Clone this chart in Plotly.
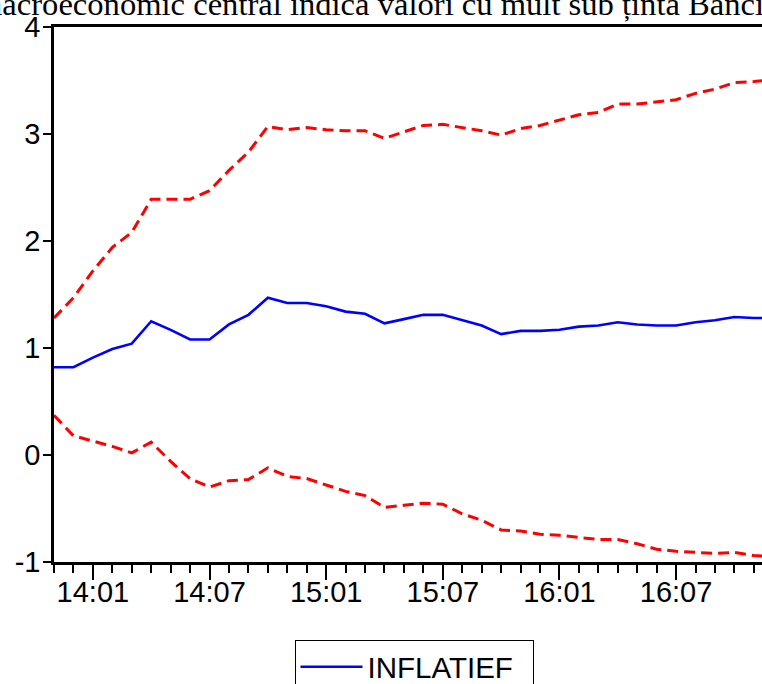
import plotly.graph_objects as go

periods = ["2013:11", "2013:12",
           "2014:01", "2014:02", "2014:03", "2014:04", "2014:05", "2014:06",
           "2014:07", "2014:08", "2014:09", "2014:10", "2014:11", "2014:12",
           "2015:01", "2015:02", "2015:03", "2015:04", "2015:05", "2015:06",
           "2015:07", "2015:08", "2015:09", "2015:10", "2015:11", "2015:12",
           "2016:01", "2016:02", "2016:03", "2016:04", "2016:05", "2016:06",
           "2016:07", "2016:08", "2016:09", "2016:10", "2016:11", "2016:12"]

inflatief = [0.82, 0.82, 0.91, 0.99, 1.04, 1.25, 1.17, 1.08, 1.08, 1.22, 1.31, 1.47,
             1.42, 1.42, 1.39, 1.34, 1.32, 1.23, 1.27, 1.31, 1.31, 1.26, 1.21, 1.13,
             1.16, 1.16, 1.17, 1.20, 1.21, 1.24, 1.22, 1.21, 1.21, 1.24, 1.26, 1.29,
             1.28, 1.28]

upper_band = [1.28, 1.47, 1.72, 1.94, 2.08, 2.39, 2.39, 2.39, 2.47, 2.66, 2.83, 3.07,
              3.04, 3.06, 3.04, 3.03, 3.03, 2.96, 3.02, 3.08, 3.09, 3.06, 3.03, 2.99,
              3.05, 3.08, 3.13, 3.18, 3.20, 3.28, 3.28, 3.30, 3.32, 3.38, 3.42, 3.48,
              3.49, 3.51]

lower_band = [0.37, 0.18, 0.13, 0.08, 0.02, 0.12, -0.06, -0.22, -0.30, -0.24, -0.23, -0.12,
              -0.20, -0.22, -0.28, -0.34, -0.38, -0.49, -0.47, -0.45, -0.46, -0.55, -0.61, -0.70,
              -0.71, -0.74, -0.75, -0.77, -0.79, -0.79, -0.83, -0.88, -0.90, -0.91, -0.92, -0.91,
              -0.94, -0.95]

tick_periods = ["2014:01", "2014:07", "2015:01", "2015:07", "2016:01", "2016:07"]
tick_labels = ["14:01", "14:07", "15:01", "15:07", "16:01", "16:07"]
y_ticks = [-1, 0, 1, 2, 3, 4]

title_text = "macroeconomic central indică valori cu mult sub ținta Băncii"

x = list(range(len(periods)))
tick_pos = [periods.index(p) for p in tick_periods]

FONT = "Liberation Sans, Arial, sans-serif"

fig = go.Figure()
fig.add_trace(go.Scatter(x=x, y=upper_band, mode="lines", showlegend=False,
                         line=dict(color="#ff0000", width=3, dash="11px,6px"),
                         hoverinfo="skip"))
fig.add_trace(go.Scatter(x=x, y=lower_band, mode="lines", showlegend=False,
                         line=dict(color="#ff0000", width=3, dash="11px,6px"),
                         hoverinfo="skip"))
fig.add_trace(go.Scatter(x=x, y=inflatief, mode="lines", name="INFLATIEF",
                         line=dict(color="#0000ff", width=2.6)))

fig.update_layout(
    width=762, height=684,
    margin=dict(l=54.4, r=0, t=26.6, b=122.3, autoexpand=False),
    paper_bgcolor="white", plot_bgcolor="white",
    font=dict(family=FONT, size=29, color="black"),
    showlegend=True,
    legend=dict(
        xref="container", yref="container",
        x=414 / 762, xanchor="center", y=1 - 640 / 684, yanchor="top",
        orientation="h", itemwidth=62, entrywidth=160, entrywidthmode="pixels",
        bordercolor="black", borderwidth=1, bgcolor="white",
        font=dict(family=FONT, size=29.5, color="black"),
    ),
    xaxis=dict(
        range=[0, 36.42],
        tickmode="array", tickvals=tick_pos, ticktext=tick_labels,
        ticks="outside", ticklen=15, tickwidth=2, tickcolor="black",
        ticklabelstandoff=-13,
        minor=dict(tickmode="linear", tick0=0, dtick=1, ticks="outside",
                   ticklen=8, tickwidth=2, tickcolor="black"),
        showline=True, linecolor="black", linewidth=2.5, mirror=True,
        showgrid=False, zeroline=False,
        tickfont=dict(family=FONT, size=29, color="black"),
    ),
    yaxis=dict(
        range=[-1, 4],
        tickmode="array", tickvals=y_ticks, ticktext=[str(v) for v in y_ticks],
        ticks="outside", ticklen=8, tickwidth=2, tickcolor="black",
        ticklabelstandoff=-3,
        showline=True, linecolor="black", linewidth=2.5, mirror=False,
        showgrid=False, zeroline=False,
        tickfont=dict(family=FONT, size=29, color="black"),
    ),
    annotations=[dict(
        text=title_text, xref="paper", yref="paper",
        x=-0.1122, xanchor="left", y=1.0, yanchor="bottom", yshift=3,
        showarrow=False,
        font=dict(family="Liberation Serif, Times New Roman, serif", size=32.6, color="black"),
    )],
)

fig.write_html(
    "out.html",
    config={"displayModeBar": False},
    post_script="document.body.style.margin='0px';document.body.style.overflow='hidden';",
)
